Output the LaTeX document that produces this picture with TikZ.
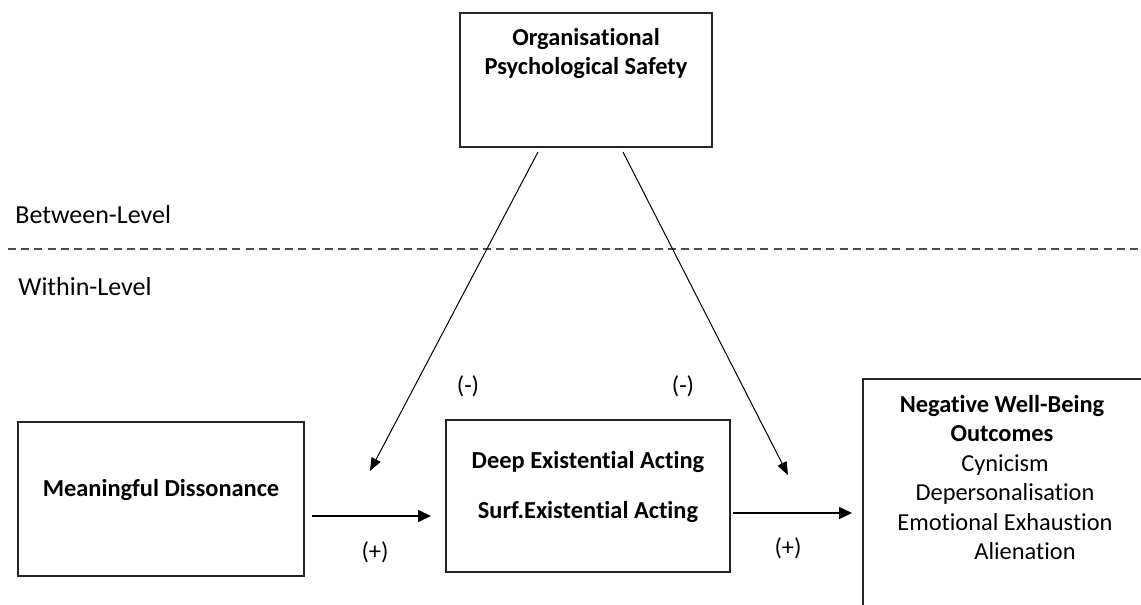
\documentclass[tikz,border=0pt]{standalone}
\usepackage{fontspec}
\setmainfont{Carlito}[Ligatures={NoCommon}]
\usetikzlibrary{arrows.meta}
\begin{document}
\begin{tikzpicture}[x=0.5pt,y=-0.5pt,
  every node/.style={font=\fontsize{12.2}{14.75}\selectfont},
  box/.style={draw=black!85,line width=0.75pt,inner sep=0pt},
  head/.style={font=\fontsize{12.2}{14.75}\selectfont\bfseries,align=center,inner sep=0pt},
  plain/.style={align=center,inner sep=0pt},
  moder/.style={-{Triangle[length=6.5pt,width=5pt]},line width=0.5pt},
  path/.style={-{Triangle[length=6.5pt,width=6pt]},line width=0.8pt},
  level/.style={anchor=west,inner sep=0pt,font=\fontsize{13}{15}\selectfont}]
\useasboundingbox (0,0) rectangle (1141,605);
\clip (0,0) rectangle (1141,605);

% boxes
\node[box,minimum width=126pt,minimum height=67pt] (ops) at (586,80) {};
\node[box,minimum width=143pt,minimum height=77pt] (md) at (161,499) {};
\node[box,minimum width=142pt,minimum height=76pt] (ea) at (588,496) {};
\node[box,minimum width=148.5pt,minimum height=120.5pt] (wb) at (1011.5,499.5) {};

% box texts
\node[head] (opsT) at (586,53.5) {Organisational\\Psychological Safety};
\node[head] (mdT) at (161,490) {Meaningful Dissonance};
\node[head] (eaT1) at (588,462) {Deep Existential Acting};
\node[head] (eaT2) at (588,512) {Surf.Existential Acting};
\node[head] (wbT) at (1002,418.5) {Negative Well-Being\\Outcomes};
\node[plain] (wbL) at (1005,507) {Cynicism\\Depersonalisation\\Emotional Exhaustion\\\hspace*{20pt}Alienation};

% level divider
\node[level] (between) at (15,215) {Between-Level};
\node[level] (within) at (18,287) {Within-Level};
\coordinate (dL) at (8,249);
\coordinate (dR) at (1145,249);
\draw[black!70,line width=0.75pt,dash pattern=on 4pt off 2.6pt] (dL) -- (dR);

% cross-level moderation
\coordinate (m1s) at (538,152);
\coordinate (m1e) at (370,471);
\coordinate (m2s) at (623,152);
\coordinate (m2e) at (788,475);
\draw[moder] (m1s) -- (m1e);
\draw[moder] (m2s) -- (m2e);
\node (neg1) at (468,386) {(-)};
\node (neg2) at (683,386) {(-)};

% main paths
\coordinate (p1s) at (312,516);
\coordinate (p1e) at (431,516);
\coordinate (p2s) at (733,513);
\coordinate (p2e) at (852,513);
\draw[path] (p1s) -- (p1e);
\draw[path] (p2s) -- (p2e);
\node (pos1) at (375,552) {(+)};
\node (pos2) at (788,548) {(+)};
\end{tikzpicture}
\end{document}
